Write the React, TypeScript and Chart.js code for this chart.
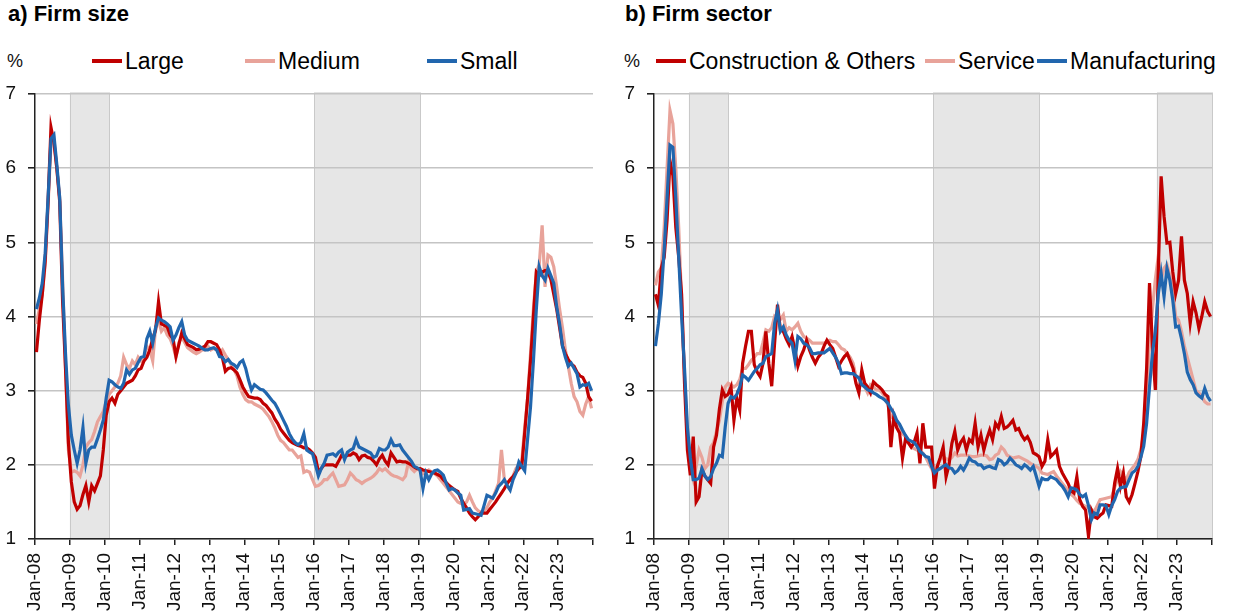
import React, { useEffect, useRef } from "react";
import { Chart, registerables } from "chart.js";

Chart.register(...registerables);

// ---- Axis labels -------------------------------------------------------
const yearTicks = [
  "Jan-08", "Jan-09", "Jan-10", "Jan-11", "Jan-12", "Jan-13", "Jan-14", "Jan-15",
  "Jan-16", "Jan-17", "Jan-18", "Jan-19", "Jan-20", "Jan-21", "Jan-22", "Jan-23",
];

// ---- Panel a) Firm size: monthly rates, Jan-08 .. Dec-23 (%) -------------
const large = [
  3.52, 3.95, 4.3, 4.75, 5.55, 6.55, 6.35, 6.0, 5.55, 4.2, 3.3, 2.3,
  1.77, 1.5, 1.4, 1.45, 1.6, 1.72, 1.5, 1.72, 1.65, 1.75, 1.85, 2.2,
  2.67, 2.85, 2.9, 2.83, 2.95, 3.0, 3.05, 3.1, 3.12, 3.14, 3.2, 3.28,
  3.3, 3.4, 3.45, 3.55, 3.7, 3.82, 4.2, 3.9, 3.88, 3.86, 3.75, 3.7,
  3.46, 3.62, 3.78, 3.7, 3.62, 3.6, 3.58, 3.55, 3.56, 3.58, 3.6, 3.66,
  3.66, 3.64, 3.62, 3.55, 3.44, 3.26, 3.3, 3.31, 3.28, 3.24, 3.15, 3.05,
  2.98, 2.92, 2.91, 2.9, 2.9, 2.88, 2.83, 2.8, 2.75, 2.7, 2.62, 2.56,
  2.48, 2.43, 2.38, 2.33, 2.3, 2.28, 2.26, 2.25, 2.23, 2.23, 2.2, 2.16,
  2.1, 1.91, 1.95, 2.0, 2.0, 2.0, 2.0, 1.98, 2.05, 2.13, 2.1, 2.13,
  2.13, 2.16, 2.14, 2.07, 2.12, 2.13, 2.1, 2.09, 2.05, 2.0, 2.08, 2.13,
  2.05, 2.0, 2.16, 2.1, 2.04, 2.05, 2.04, 2.04, 2.02, 2.0, 1.97, 1.95,
  1.95, 1.93, 1.92, 1.91, 1.9, 1.89, 1.87, 1.85, 1.8, 1.76, 1.72, 1.69,
  1.66, 1.64, 1.55, 1.48, 1.42, 1.35, 1.3, 1.26, 1.3, 1.35, 1.35, 1.35,
  1.4, 1.45, 1.5, 1.56, 1.62, 1.68, 1.75, 1.8, 1.84, 1.9, 1.95, 1.98,
  2.43, 2.9, 3.4, 4.0, 4.6, 4.55, 4.6, 4.62, 4.6, 4.5, 4.3, 4.1,
  3.85, 3.6, 3.5, 3.42, 3.36, 3.33, 3.25, 3.2, 3.18, 3.1, 2.92, 2.86,
];

const medium = [
  3.9, 4.1, 4.3, 4.7, 5.5, 6.35, 6.4, 6.0, 5.6, 4.5, 3.3, 2.2,
  1.9, 1.92, 1.9, 1.85, 2.0, 2.24, 2.3, 2.34, 2.45, 2.58, 2.65, 2.72,
  2.85, 2.95, 3.0, 3.05, 3.1, 3.2, 3.45, 3.35, 3.3, 3.4, 3.35, 3.45,
  3.4, 3.45, 3.6, 3.55, 3.4, 3.85, 3.95, 3.8, 3.85, 3.75, 3.7, 3.6,
  3.45, 3.65, 3.72, 3.65, 3.58, 3.55, 3.52, 3.5, 3.52, 3.55, 3.55, 3.6,
  3.55, 3.57, 3.55, 3.5, 3.55, 3.48, 3.42, 3.35, 3.28, 3.2, 3.05, 2.95,
  2.88, 2.85, 2.85, 2.82, 2.8, 2.78, 2.75, 2.7, 2.65, 2.58, 2.5, 2.4,
  2.33, 2.3, 2.25, 2.2, 2.2, 2.15, 2.1, 2.12, 1.9, 1.92, 1.9, 1.8,
  1.71, 1.72, 1.75, 1.8, 1.8, 1.85, 1.89, 1.8, 1.71, 1.72, 1.73, 1.8,
  1.89, 1.85, 1.8, 1.78, 1.75, 1.78, 1.8, 1.82, 1.85, 1.89, 1.95, 1.92,
  1.95, 1.91, 1.87, 1.85, 1.84, 1.82, 1.8, 1.85, 2.04, 1.95, 1.91, 1.95,
  1.92, 1.88, 1.9, 1.93, 1.9, 1.88, 1.85, 1.8, 1.75, 1.7, 1.65, 1.6,
  1.55, 1.5, 1.48, 1.47, 1.5, 1.59, 1.5, 1.42, 1.38, 1.36, 1.38, 1.42,
  1.5, 1.55, 1.65, 1.75, 2.2, 1.8, 1.75, 1.8, 1.85, 1.95, 2.0, 2.05,
  2.5, 2.9, 3.5, 4.1, 4.6, 4.7, 5.23, 4.4, 4.83, 4.8, 4.67, 4.4,
  4.1, 3.85, 3.55, 3.33, 3.1, 2.92, 2.85, 2.72, 2.67, 2.82, 2.92, 2.76,
];

const small = [
  4.1, 4.25, 4.45, 4.85, 5.6, 6.4, 6.45, 6.05, 5.6, 4.4, 3.5, 2.8,
  2.4, 2.2, 2.02, 2.2, 2.5, 2.02, 2.2, 2.24, 2.24, 2.35, 2.47, 2.6,
  2.9, 3.14, 3.12, 3.08, 3.05, 3.03, 3.1, 3.28, 3.22, 3.28, 3.3, 3.38,
  3.45, 3.46, 3.7, 3.8, 3.64, 3.85, 3.98, 3.95, 3.93, 3.9, 3.86, 3.68,
  3.75, 3.85, 3.93, 3.75, 3.68, 3.66, 3.64, 3.62, 3.6, 3.57, 3.55, 3.55,
  3.57, 3.58, 3.55, 3.46, 3.45, 3.39, 3.42, 3.37, 3.35, 3.31, 3.38, 3.41,
  3.3, 3.14, 3.01, 3.08, 3.05, 3.02, 3.01, 2.97, 2.92, 2.87, 2.83, 2.76,
  2.68, 2.6, 2.52, 2.42, 2.35, 2.3, 2.27, 2.3, 2.42, 2.2, 2.17, 2.15,
  2.0, 1.85, 1.95, 2.02, 2.13, 2.14, 2.15, 2.12, 2.17, 2.2, 2.07, 2.17,
  2.2, 2.22, 2.34, 2.24, 2.22, 2.2, 2.18, 2.16, 2.1, 2.12, 2.22, 2.2,
  2.2, 2.24, 2.34, 2.26, 2.26, 2.27, 2.2, 2.15, 2.1, 2.05, 1.98, 1.96,
  1.93, 1.68, 1.89, 1.8, 1.88, 1.92, 1.93, 1.9, 1.86, 1.75, 1.66, 1.68,
  1.66, 1.62, 1.59, 1.39, 1.4, 1.41, 1.35, 1.34, 1.33, 1.32, 1.45, 1.59,
  1.57, 1.55, 1.62, 1.71, 1.75, 1.8, 1.72, 1.66, 1.8, 1.89, 2.04, 1.98,
  1.92, 2.35, 2.78, 3.4, 4.1, 4.67, 4.55, 4.49, 4.65, 4.55, 4.45, 4.13,
  3.9, 3.6, 3.45, 3.33, 3.37, 3.3, 3.23, 3.05, 3.08, 3.07, 3.1, 3.0,
];

// ---- Panel b) Firm sector: monthly rates, Jan-08 .. Dec-23 (%) -----------
const construction = [
  4.3, 4.15, 4.65, 4.8, 5.3, 6.1, 5.9, 5.2, 4.8, 4.3, 3.1, 2.2,
  1.86, 2.38, 1.5, 1.57, 1.93, 1.85, 1.8, 1.75, 2.24, 2.4, 2.75, 3.01,
  2.92, 2.95, 3.05, 2.6, 2.9, 2.74, 3.37, 3.6, 3.8, 3.8, 3.35, 3.25,
  3.19, 3.37, 3.8, 3.37, 3.06, 3.64, 4.16, 3.82, 3.8, 3.7, 3.62, 3.73,
  3.55, 3.33, 3.46, 3.55, 3.68, 3.55, 3.45, 3.37, 3.45, 3.5, 3.6, 3.68,
  3.62, 3.57, 3.45, 3.33, 3.4, 3.46, 3.5, 3.4, 3.3, 3.1, 2.97, 3.28,
  3.1, 3.05, 2.97, 3.12, 3.08, 3.05, 3.01, 2.95, 2.92, 2.24, 2.65, 2.5,
  2.43, 2.09, 2.34, 2.3, 2.24, 2.3, 2.43, 2.02, 2.56, 2.24, 2.24, 2.24,
  1.68, 1.98, 2.1, 2.24, 1.84, 2.0, 2.29, 2.45, 2.2, 2.3, 2.36, 2.2,
  2.34, 2.3, 2.56, 2.24, 2.4, 2.2, 2.35, 2.47, 2.34, 2.56, 2.5, 2.65,
  2.49, 2.51, 2.55, 2.6, 2.47, 2.49, 2.4, 2.34, 2.38, 2.3, 2.16, 2.14,
  2.11, 1.98, 2.05, 2.34, 2.11, 2.15, 2.2, 1.98, 1.89, 1.82, 1.75, 1.65,
  1.62, 1.84, 1.53, 1.44, 1.39, 1.04, 1.39, 1.3, 1.28, 1.32, 1.35, 1.46,
  1.45, 1.44, 1.75, 1.95, 1.71, 1.89, 1.57, 1.5, 1.6, 1.75, 1.91, 2.11,
  2.56, 3.3, 4.45, 3.6, 3.01, 4.6, 5.89, 5.35, 4.99, 5.0, 4.6, 4.31,
  4.49, 5.08, 4.49, 4.31, 3.91, 4.2, 4.05, 3.84, 4.0, 4.2, 4.07, 4.0,
];

const service = [
  4.42, 4.6, 4.65, 5.2, 6.0, 6.78, 6.6, 6.0, 5.2, 4.2, 3.2, 2.4,
  1.95, 1.8, 1.98, 2.2, 2.1, 1.95, 2.0, 2.24, 2.3, 2.45, 2.6, 2.85,
  3.05, 3.1, 3.08, 3.05, 3.08, 3.15, 3.3, 3.3, 3.35, 3.41, 3.45, 3.5,
  3.5, 3.65, 3.82, 3.8, 3.85, 4.0, 3.96, 3.96, 4.02, 3.8, 3.85, 3.82,
  3.86, 3.91, 3.8, 3.73, 3.71, 3.68, 3.64, 3.64, 3.64, 3.64, 3.64, 3.66,
  3.68, 3.66, 3.66, 3.62, 3.57, 3.55, 3.5, 3.45, 3.37, 3.19, 3.18, 3.17,
  3.05, 2.97, 3.08, 3.05, 3.01, 3.01, 2.97, 2.92, 2.8, 2.65, 2.62, 2.6,
  2.47, 2.42, 2.38, 2.3, 2.24, 2.22, 2.2, 2.18, 2.16, 2.1, 2.02, 1.95,
  1.87, 2.0, 2.07, 2.11, 2.08, 2.07, 2.1, 2.16, 2.12, 2.13, 2.13, 2.13,
  2.12, 2.11, 2.11, 2.12, 2.13, 2.13, 2.12, 2.07, 2.08, 2.13, 2.15, 2.24,
  2.2, 2.13, 2.11, 2.09, 2.1, 2.11, 2.09, 2.07, 2.05, 2.02, 2.0, 1.98,
  1.95, 1.89, 1.88, 1.87, 1.89, 1.91, 1.85, 1.8, 1.75, 1.7, 1.66, 1.6,
  1.57, 1.52, 1.48, 1.46, 1.44, 1.42, 1.4, 1.37, 1.45, 1.53, 1.54, 1.55,
  1.56, 1.57, 1.7, 1.8, 1.91, 1.85, 1.8, 1.9, 1.95, 2.0, 2.07, 2.2,
  2.43, 3.01, 3.6, 4.1, 4.5, 4.81, 4.5, 4.65, 4.7, 4.55, 4.35, 4.0,
  3.95, 3.8, 3.6, 3.45, 3.3, 3.15, 3.0, 2.97, 2.92, 2.85, 2.82, 2.82,
];

const manufacturing = [
  3.6, 3.9, 4.3, 4.9, 5.6, 6.31, 6.28, 5.6, 4.8, 4.0, 3.3, 2.5,
  2.1, 1.8, 1.8, 1.82, 1.95, 1.85, 1.8, 1.84, 1.95, 2.02, 2.13, 2.11,
  2.51, 2.83, 2.92, 2.9, 2.95, 3.05, 3.21, 3.18, 3.14, 3.2, 3.26, 3.3,
  3.35, 3.37, 3.46, 3.48, 3.5, 3.91, 4.09, 3.8, 3.86, 3.75, 3.68, 3.64,
  3.41, 3.73, 3.7, 3.64, 3.62, 3.58, 3.5, 3.5, 3.51, 3.51, 3.51, 3.54,
  3.57, 3.51, 3.45, 3.37, 3.23, 3.24, 3.24, 3.23, 3.23, 3.2, 3.17, 3.08,
  3.05, 3.01, 3.0, 2.97, 2.95, 2.92, 2.9, 2.87, 2.83, 2.76, 2.7, 2.6,
  2.55, 2.47, 2.4, 2.34, 2.32, 2.3, 2.25, 2.18, 2.15, 2.11, 2.1, 1.98,
  1.89, 1.93, 1.95, 1.98, 2.0, 1.96, 1.95, 1.89, 1.92, 1.98, 1.93, 2.0,
  2.09, 2.05, 2.04, 2.0, 2.0, 1.95, 1.97, 1.98, 1.96, 1.95, 2.07, 2.05,
  2.0, 2.03, 2.09, 2.05, 2.0, 1.98, 1.95, 2.0, 1.97, 1.93, 1.98, 1.85,
  1.71, 1.82, 1.8, 1.8, 1.84, 1.82, 1.8, 1.75, 1.71, 1.65, 1.57, 1.69,
  1.68, 1.66, 1.6, 1.57, 1.6, 1.45, 1.26, 1.35, 1.33, 1.46, 1.46, 1.45,
  1.33, 1.45, 1.53, 1.64, 1.69, 1.7, 1.71, 1.8, 1.89, 1.92, 1.98, 2.1,
  2.25, 2.56, 3.05, 3.5, 3.8, 4.3, 4.58, 4.27, 4.65, 4.49, 4.22, 3.86,
  3.87, 3.7, 3.5, 3.25, 3.15, 3.08, 2.97, 2.93, 2.9, 3.03, 2.92, 2.86,
];

// Shaded periods, in months since Jan-08
const sizeShadeStart = [12, 96];
const sizeShadeEnd = [25.5, 132.5];
const sectorShadeStart = [12, 96, 173];
const sectorShadeEnd = [25.5, 132.5, 192];

const RED = "#C00000";
const PINK = "#E8A39A";
const BLUE = "#2166AE";
const FONT = "'Liberation Sans', Arial, sans-serif";

type Series = { label: string; values: number[]; color: string; order: number };

const shadePlugin = {
  id: "shade",
  beforeDraw(chart: any, _args: any, opts: any) {
    const { ctx, chartArea, scales } = chart;
    const xs = scales.x;
    const starts: number[] = opts.starts || [];
    const ends: number[] = opts.ends || [];
    ctx.save();
    starts.forEach((s, k) => {
      const x0 = xs.getPixelForValue(s);
      const x1 = xs.getPixelForValue(ends[k]);
      const h = chartArea.bottom - chartArea.top;
      ctx.fillStyle = "#E6E6E6";
      ctx.fillRect(x0, chartArea.top - 1, x1 - x0, h + 1);
      ctx.strokeStyle = "#C9C9C9";
      ctx.lineWidth = 1;
      ctx.strokeRect(Math.round(x0) + 0.5, chartArea.top - 1, Math.round(x1 - x0), h + 1);
    });
    ctx.restore();
  },
};

function Panel(props: {
  left: number;
  width: number;
  axisWidth: number;
  padRight: number;
  title: string;
  series: Series[];
  shadeStarts: number[];
  shadeEnds: number[];
  legendPos: number[];
}) {
  const ref = useRef<HTMLCanvasElement>(null);

  useEffect(() => {
    if (!ref.current) return;
    const chart = new Chart(ref.current, {
      type: "line",
      data: {
        datasets: props.series.map((s) => ({
          label: s.label,
          data: s.values.map((v, i) => ({ x: i + 0.5, y: v })),
          borderColor: s.color,
          backgroundColor: s.color,
          borderWidth: 3.2,
          pointRadius: 0,
          tension: 0,
          order: s.order,
        })),
      },
      options: {
        responsive: false,
        animation: false,
        devicePixelRatio: 1,
        layout: { padding: { left: 0, right: props.padRight, top: 14, bottom: 0 } },
        plugins: {
          legend: { display: false },
          tooltip: { enabled: false },
          shade: { starts: props.shadeStarts, ends: props.shadeEnds },
        } as any,
        scales: {
          x: {
            type: "linear",
            min: 0,
            max: 192,
            ticks: {
              stepSize: 12,
              autoSkip: false,
              minRotation: 90,
              maxRotation: 90,
              padding: 8,
              color: "#111",
              font: { family: FONT, size: 19 },
              callback: (_v: any, i: number) => yearTicks[i] ?? "",
            },
            grid: {
              drawOnChartArea: false,
              drawTicks: true,
              tickLength: 6,
              tickColor: "#222",
              lineWidth: 1.5,
            },
            border: { color: "#222", width: 1.5 },
            afterFit: (s: any) => {
              s.height = 76;
              s.paddingLeft = 0;
              s.paddingRight = 0;
            },
          },
          y: {
            min: 1,
            max: 7,
            ticks: {
              stepSize: 1,
              padding: 12,
              color: "#111",
              font: { family: FONT, size: 19 },
            },
            grid: {
              color: "#C4C4C4",
              lineWidth: 1.6,
              tickColor: "#222",
              tickLength: 7,
            },
            border: { color: "#222", width: 1.5 },
            afterFit: (s: any) => {
              s.width = props.axisWidth;
              s.paddingTop = 0;
              s.paddingBottom = 0;
            },
          },
        } as any,
      },
      plugins: [shadePlugin],
    });
    return () => chart.destroy();
  }, []);

  return (
    <div style={{ position: "absolute", left: props.left, top: 0, width: props.width, height: 615 }}>
      <div
        style={{
          position: "absolute",
          left: 8,
          top: 2,
          fontFamily: FONT,
          fontWeight: "bold",
          fontSize: 22,
          lineHeight: "24px",
          color: "#000",
          whiteSpace: "nowrap",
        }}
      >
        {props.title}
      </div>
      <div
        style={{
          position: "absolute",
          left: 7,
          top: 50,
          fontFamily: FONT,
          fontSize: 18,
          lineHeight: "22px",
          color: "#111",
        }}
      >
        %
      </div>
      {props.series.map((s, k) => (
        <div
          key={s.label}
          style={{
            position: "absolute",
            left: props.legendPos[k],
            top: 48,
            height: 26,
            display: "flex",
            alignItems: "center",
            whiteSpace: "nowrap",
          }}
        >
          <span style={{ display: "inline-block", width: 30, height: 3.5, background: s.color, marginRight: 3 }} />
          <span style={{ fontFamily: FONT, fontSize: 23, lineHeight: "26px", color: "#000" }}>{s.label}</span>
        </div>
      ))}
      <canvas
        ref={ref}
        width={props.width}
        height={535}
        style={{ position: "absolute", left: 0, top: 80, width: props.width, height: 535 }}
      />
    </div>
  );
}

export default function App() {
  const sizeSeries: Series[] = [
    { label: "Large", values: large, color: RED, order: 1 },
    { label: "Medium", values: medium, color: PINK, order: 2 },
    { label: "Small", values: small, color: BLUE, order: 0 },
  ];
  const sectorSeries: Series[] = [
    { label: "Construction & Others", values: construction, color: RED, order: 1 },
    { label: "Service", values: service, color: PINK, order: 2 },
    { label: "Manufacturing", values: manufacturing, color: BLUE, order: 0 },
  ];
  return (
    <div style={{ position: "fixed", left: 0, top: 0, width: 1234, height: 615, background: "#fff", overflow: "hidden" }}>
      <Panel
        left={0}
        width={617}
        axisWidth={35}
        padRight={24}
        title="a) Firm size"
        series={sizeSeries}
        shadeStarts={sizeShadeStart}
        shadeEnds={sizeShadeEnd}
        legendPos={[92, 245, 427]}
      />
      <Panel
        left={617}
        width={617}
        axisWidth={37}
        padRight={22}
        title="b) Firm sector"
        series={sectorSeries}
        shadeStarts={sectorShadeStart}
        shadeEnds={sectorShadeEnd}
        legendPos={[39, 308, 420]}
      />
    </div>
  );
}
